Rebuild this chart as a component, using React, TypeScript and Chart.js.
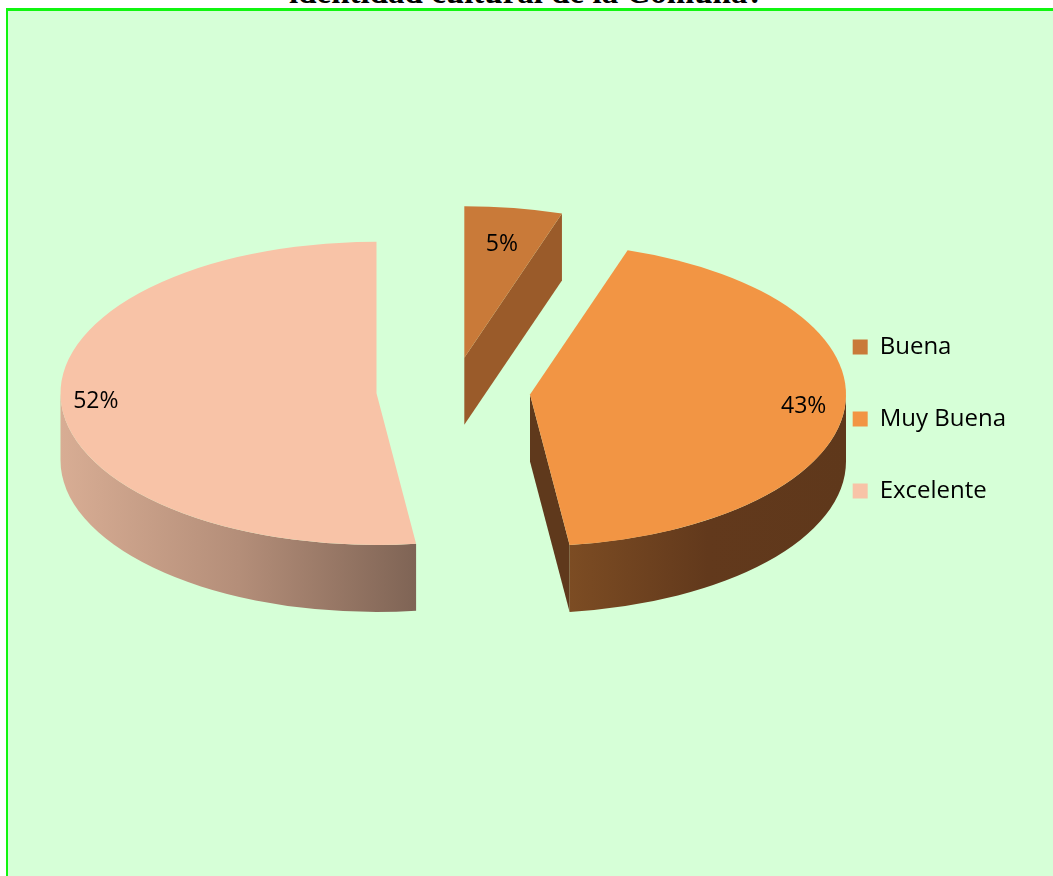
import React, { useEffect, useRef } from "react";
import { Chart, registerables } from "chart.js";

Chart.register(...registerables);

// ---- data ----
const categories = ["Buena", "Muy Buena", "Excelente"];
const percentages = [5, 43, 52];
const titleText = "identidad cultural de la Comuna?";

// ---- styles ----
const topColors = ["#C97A39", "#F29544", "#F8C3A7"];
const faceColors = ["#9A5B2A", "#5F391C", "#8A6A58"];
const wallStops = [
  ["#9A5B2A", "#8A5126"],
  ["#7C4C23", "#62391C", "#5F381B"],
  ["#D8AD94", "#B48E79", "#7F6455"],
];
const explode = [70, 77, 77];
const labelRadius = [0.76, 0.87, 0.89];

const pie3d = {
  id: "pie3d",
  beforeDatasetDraw(chart: any, args: any, opts: any) {
    const meta = args.meta;
    const ctx: CanvasRenderingContext2D = chart.ctx;
    const k = opts.tilt;
    const depth = opts.depth;
    const data = chart.data.datasets[0].data as number[];
    const total = data.reduce((a: number, b: number) => a + b, 0);
    const pieces = meta.data.map((arc: any, i: number) => {
      const p = arc.getProps(["x", "y", "startAngle", "endAngle", "outerRadius"], true);
      const mid = (p.startAngle + p.endAngle) / 2;
      const e = opts.explode[i];
      const cx = p.x + Math.cos(mid) * e;
      const cy = p.y + Math.sin(mid) * e * k;
      return { arc, p, mid, cx, cy, i };
    });

    // side walls and cut faces
    pieces.forEach((pc: any) => {
      const { p, cx, cy, i } = pc;
      const r = p.outerRadius;
      const ry = r * k;
      const a0 = p.startAngle;
      const a1 = p.endAngle;
      const face = (a: number) => {
        ctx.beginPath();
        ctx.moveTo(cx, cy);
        ctx.lineTo(cx + r * Math.cos(a), cy + ry * Math.sin(a));
        ctx.lineTo(cx + r * Math.cos(a), cy + ry * Math.sin(a) + depth);
        ctx.lineTo(cx, cy + depth);
        ctx.closePath();
        ctx.fillStyle = opts.faceColors[i];
        ctx.fill();
      };
      if (Math.cos(a0) < -1e-3) face(a0);
      if (Math.cos(a1) > 1e-3) face(a1);
      const b0 = Math.max(a0, 0);
      const b1 = Math.min(a1, Math.PI);
      if (b1 > b0) {
        const xmin = cx + r * Math.cos(b1);
        const xmax = cx + r * Math.cos(b0);
        const g = ctx.createLinearGradient(xmin, 0, xmax, 0);
        const stops = opts.wallStops[i];
        stops.forEach((c: string, j: number) => g.addColorStop(j / (stops.length - 1), c));
        ctx.beginPath();
        ctx.ellipse(cx, cy, r, ry, 0, b0, b1, false);
        ctx.lineTo(cx + r * Math.cos(b1), cy + ry * Math.sin(b1) + depth);
        ctx.ellipse(cx, cy + depth, r, ry, 0, b1, b0, true);
        ctx.closePath();
        ctx.fillStyle = g;
        ctx.fill();
      }
    });

    // top faces drawn by the library's arc elements, squashed
    pieces.forEach((pc: any) => {
      ctx.save();
      ctx.translate(pc.cx, pc.cy);
      ctx.scale(1, k);
      ctx.translate(-pc.p.x, -pc.p.y);
      pc.arc.draw(ctx);
      ctx.restore();
    });

    // percentage labels
    ctx.save();
    ctx.fillStyle = "#000";
    ctx.font = opts.labelFont;
    ctx.textAlign = "center";
    ctx.textBaseline = "middle";
    pieces.forEach((pc: any) => {
      const r = pc.p.outerRadius * opts.labelRadius[pc.i];
      const lx = pc.cx + Math.cos(pc.mid) * r;
      const ly = pc.cy + Math.sin(pc.mid) * r * k;
      const pct = Math.round((data[pc.i] / total) * 100) + "%";
      ctx.fillText(pct, lx, ly);
    });
    ctx.restore();
    return false;
  },
};

export default function App() {
  const ref = useRef<HTMLCanvasElement>(null);
  useEffect(() => {
    const chart = new Chart(ref.current as HTMLCanvasElement, {
      type: "pie",
      data: {
        labels: categories,
        datasets: [
          {
            data: percentages,
            backgroundColor: topColors,
            borderWidth: 0,
            radius: 316,
          } as any,
        ],
      },
      options: {
        animation: false,
        responsive: false,
        events: [],
        layout: { padding: { left: 102, right: 37, top: 0, bottom: 94 } },
        plugins: {
          legend: {
            position: "right",
            labels: {
              boxWidth: 15,
              boxHeight: 15,
              padding: 48,
              color: "#000",
              font: { family: "'Open Sans'", size: 24 },
            },
            title: { display: true, text: " ", padding: 18, font: { size: 20, lineHeight: 1 } },
          },
          tooltip: { enabled: false },
          pie3d: {
            tilt: 0.48,
            depth: 67,
            explode,
            faceColors,
            wallStops,
            labelRadius,
            labelFont: "23px 'Open Sans'",
          },
        } as any,
      },
      plugins: [pie3d as any],
    });
    return () => chart.destroy();
  }, []);

  return (
    <div
      style={{
        position: "fixed",
        left: 0,
        top: 0,
        width: 1053,
        height: 876,
        overflow: "hidden",
        background: "#ffffff",
      }}
    >
      <div
        style={{
          position: "absolute",
          left: 0,
          top: -26,
          width: 1053,
          textAlign: "center",
          font: "bold 33px 'Liberation Serif'",
          lineHeight: "37px",
          whiteSpace: "nowrap",
          color: "#000",
        }}
      >
        {titleText}
      </div>
      <div
        style={{
          position: "absolute",
          left: 6,
          top: 8,
          width: 1070,
          height: 890,
          background: "#D6FFD7",
          borderTop: "3px solid #10F510",
          borderLeft: "2px solid #10F510",
        }}
      />
      <canvas
        ref={ref}
        width={1053}
        height={876}
        style={{ position: "absolute", left: 0, top: 0, display: "block" }}
      />
    </div>
  );
}
